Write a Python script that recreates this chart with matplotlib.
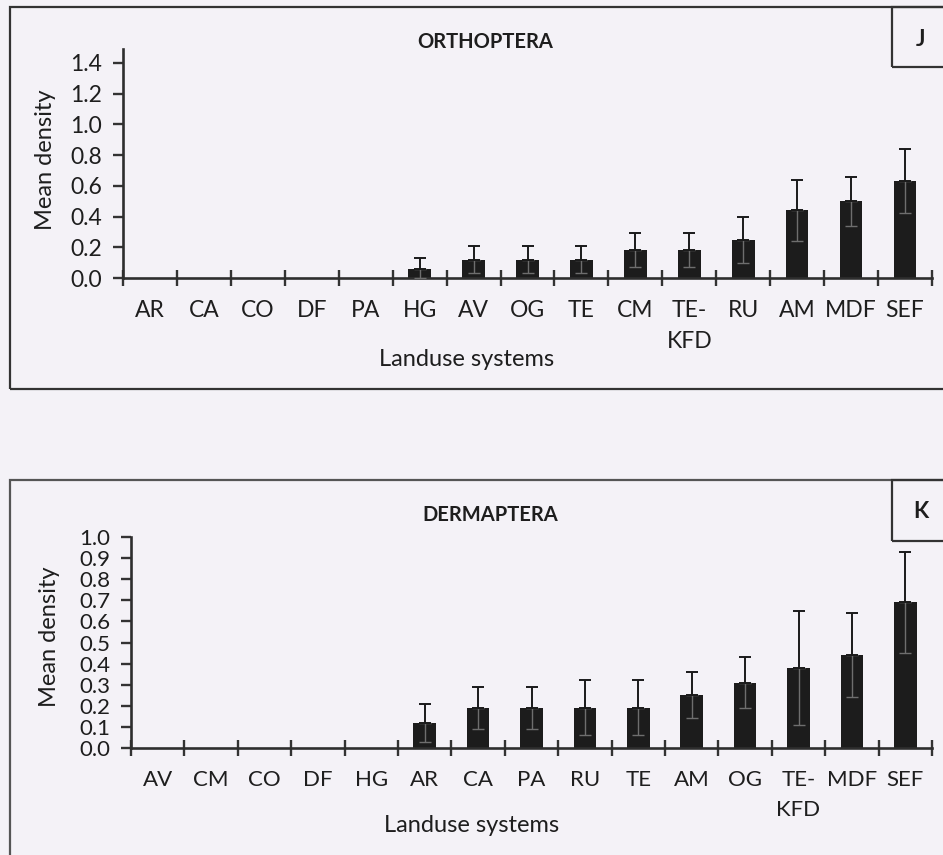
"""
plot.py - mean density of soil macrofauna orders across landuse systems
(panels J: Orthoptera, K: Dermaptera), bars with +SD error bars.
"""

import matplotlib
matplotlib.use("Agg")
import matplotlib.pyplot as plt
from matplotlib.patches import Rectangle
import numpy as np

# --- data -----------------------------------------------------------------
ortho_sites = ["AR", "CA", "CO", "DF", "PA", "HG", "AV", "OG", "TE", "CM",
               "TE-\nKFD", "RU", "AM", "MDF", "SEF"]
ortho_mean = [0, 0, 0, 0, 0, 0.06, 0.12, 0.12, 0.12, 0.18, 0.18, 0.25, 0.44, 0.50, 0.63]
ortho_sd = [0, 0, 0, 0, 0, 0.07, 0.09, 0.09, 0.09, 0.11, 0.11, 0.15, 0.20, 0.16, 0.21]
ortho_ticks = [0.0, 0.2, 0.4, 0.6, 0.8, 1.0, 1.2, 1.4]

derma_sites = ["AV", "CM", "CO", "DF", "HG", "AR", "CA", "PA", "RU", "TE",
               "AM", "OG", "TE-\nKFD", "MDF", "SEF"]
derma_mean = [0, 0, 0, 0, 0, 0.12, 0.19, 0.19, 0.19, 0.19, 0.25, 0.31, 0.38, 0.44, 0.69]
derma_sd = [0, 0, 0, 0, 0, 0.09, 0.10, 0.10, 0.13, 0.13, 0.11, 0.12, 0.27, 0.20, 0.24]
derma_ticks = [0.0, 0.1, 0.2, 0.3, 0.4, 0.5, 0.6, 0.7, 0.8, 0.9, 1.0]

W, H = 943, 855
BG = "#f4f2f7"
INK = "#1e1e1e"
plt.rcParams["font.family"] = ["Lato", "DejaVu Sans"]


def px(x0, y0, x1, y1):
    """Pixel box (top-left origin) -> figure fraction [l, b, w, h]."""
    return [x0 / W, 1 - y1 / H, (x1 - x0) / W, (y1 - y0) / H]


def frame(fig, x0, y0, x1, y1, colour="#333333", lw=1.6):
    l, b, w, h = px(x0, y0, x1, y1)
    fig.add_artist(Rectangle((l, b), w, h, transform=fig.transFigure,
                             fill=False, edgecolor=colour, linewidth=lw))


def label(fig, x, y, text, **kw):
    fig.text(x / W, 1 - y / H, text, ha="center", va="center", color=INK, **kw)


def panel(fig, box, sites, mean, sd, ticks, ymax, fs):
    ax = fig.add_axes(px(*box))
    ax.set_facecolor("none")
    x = np.arange(len(sites))
    mean = np.asarray(mean, dtype=float)
    sd = np.asarray(sd, dtype=float)
    ax.bar(x, mean, width=0.42, color="#1c1c1c", zorder=2)
    lower = np.minimum(sd, mean)
    has = mean > 0
    # minus half shows faintly through the dark bars
    ax.errorbar(x[has], mean[has], yerr=[lower[has], np.zeros(has.sum())],
                fmt="none", ecolor="#6e6e6e", elinewidth=1.0, capsize=4, zorder=3)
    ax.errorbar(x[has], mean[has], yerr=[np.zeros(has.sum()), sd[has]],
                fmt="none", ecolor="#1a1a1a", elinewidth=1.4, capsize=4.5,
                capthick=1.4, zorder=3)
    ax.set_xlim(-0.5, len(sites) - 0.5)
    ax.set_ylim(0, ymax)
    ax.set_yticks(ticks)
    ax.set_yticklabels([f"{t:.1f}" for t in ticks], fontsize=fs)
    ax.set_xticks(x)
    ax.set_xticklabels(sites, fontsize=fs, linespacing=1.6, va="top")
    ax.set_xticks(np.arange(len(sites) + 1) - 0.5, minor=True)
    ax.tick_params(axis="x", which="major", length=0, pad=16)
    ax.tick_params(axis="x", which="minor", direction="inout", length=11, width=1.7,
                   color="#333333")
    ax.tick_params(axis="y", direction="out", length=7, width=1.7, pad=8,
                   color="#333333", labelcolor=INK)
    ax.tick_params(axis="x", labelcolor=INK)
    for side in ("top", "right"):
        ax.spines[side].set_visible(False)
    for side in ("left", "bottom"):
        ax.spines[side].set_linewidth(1.9)
        ax.spines[side].set_color("#2e2e2e")
    return ax


fig = plt.figure(figsize=(W / 100, H / 100), dpi=100, facecolor=BG)

# panel J
frame(fig, 10, 7, 960, 389)
frame(fig, 892, 7, 960, 67)
label(fig, 921, 40, "J", fontsize=16, fontweight="bold")
panel(fig, (123, 49, 932, 278), ortho_sites, ortho_mean, ortho_sd,
      ortho_ticks, 1.49, 16.5)
label(fig, 45, 160, "Mean density", fontsize=17, rotation=90)
label(fig, 485, 42, "ORTHOPTERA", fontsize=14.5, fontweight="bold")
label(fig, 467, 360, "Landuse systems", fontsize=17)

# panel K
frame(fig, 10, 480, 960, 880, colour="#555555")
frame(fig, 892, 480, 960, 541)
label(fig, 921, 512, "K", fontsize=16, fontweight="bold")
panel(fig, (131, 537, 932, 748), derma_sites, derma_mean, derma_sd,
      derma_ticks, 1.0, 16)
label(fig, 50, 637, "Mean density", fontsize=17, rotation=90)
label(fig, 490, 515, "DERMAPTERA", fontsize=14.5, fontweight="bold")
label(fig, 472, 825, "Landuse systems", fontsize=17)

fig.savefig("out.png", dpi=100, facecolor=BG)
